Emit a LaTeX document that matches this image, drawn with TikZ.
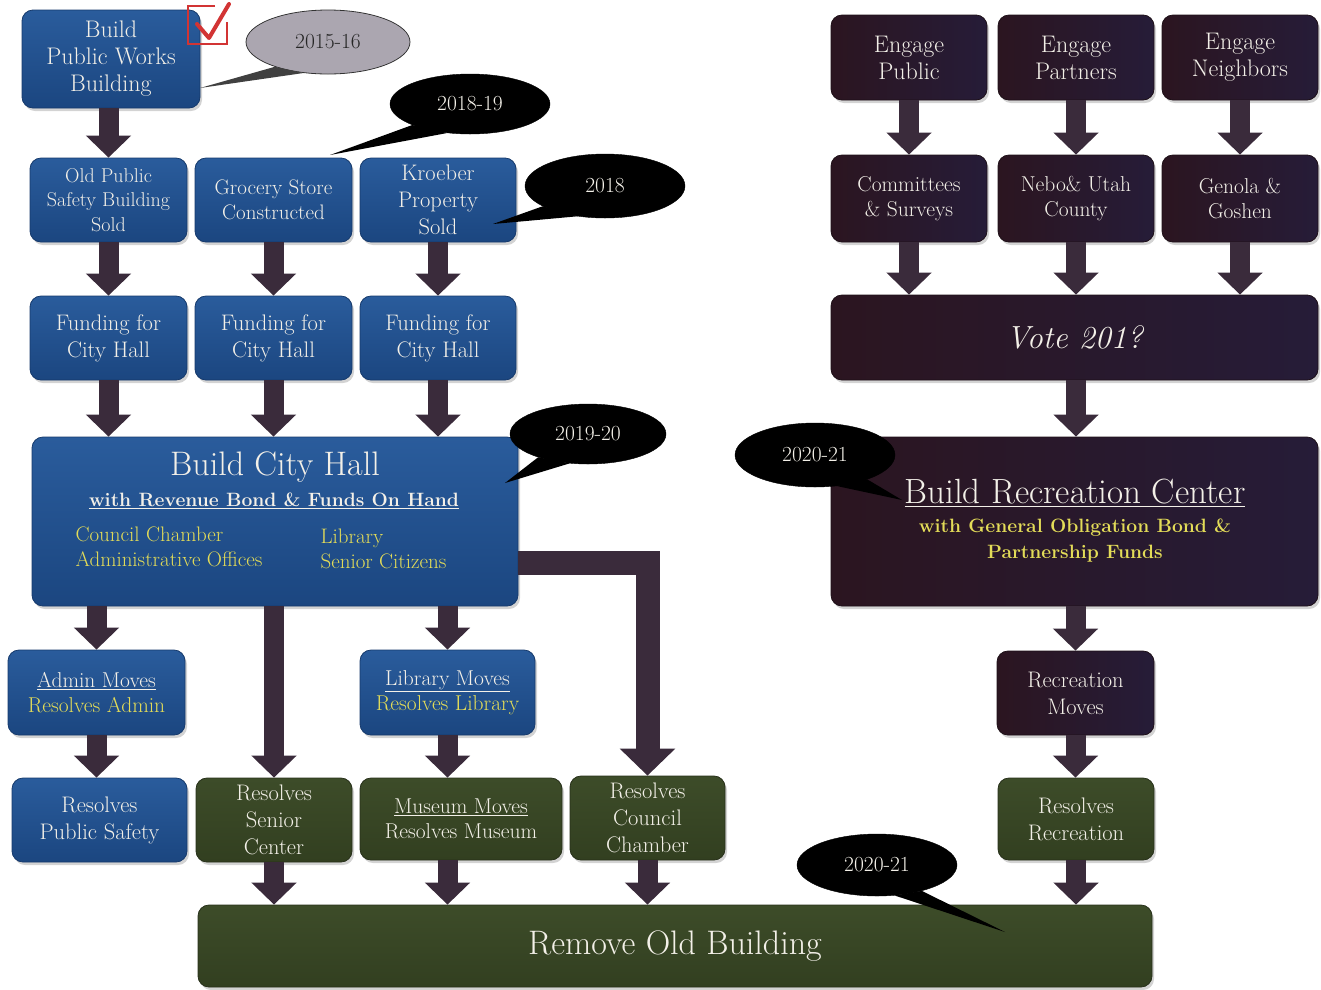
\documentclass[tikz,border=0pt]{standalone}
\usetikzlibrary{shapes.geometric,arrows.meta,shadows}
\definecolor{blueT}{HTML}{2A5C9C}
\definecolor{blueB}{HTML}{1B4680}
\definecolor{blueE}{HTML}{163A6C}
\definecolor{darkL}{HTML}{2B1520}
\definecolor{darkR}{HTML}{261C38}
\definecolor{darkE}{HTML}{1E1018}
\definecolor{greenT}{HTML}{3D4C29}
\definecolor{greenB}{HTML}{323F20}
\definecolor{greenE}{HTML}{27301A}
\definecolor{arrowc}{HTML}{3A2B3B}
\definecolor{yellowt}{HTML}{E3DC58}
\definecolor{whitet}{HTML}{F3F0E8}
\definecolor{greyell}{HTML}{ABA6B0}
\definecolor{checkred}{HTML}{D23434}
\begin{document}
\begin{tikzpicture}[x=1pt,y=-1pt,
  box/.style={rounded corners=11pt, align=center, inner sep=2pt, text=whitet,
    drop shadow={shadow xshift=2pt,shadow yshift=-3pt,opacity=0.35}},
  bluebox/.style={box, top color=blueT, bottom color=blueB, draw=blueE, line width=0.8pt},
  darkbox/.style={box, left color=darkL, right color=darkR, draw=darkE, line width=0.8pt},
  greenbox/.style={box, top color=greenT, bottom color=greenB, draw=greenE, line width=0.8pt},
  sz/.style 2 args={minimum width=#1, minimum height=#2},
  fa/.style={font=\fontsize{20}{24.5}\selectfont},
  fb/.style={font=\fontsize{21.5}{25.5}\selectfont},
  fc/.style={font=\fontsize{22.5}{27}\selectfont},
  fd/.style={font=\fontsize{24}{27}\selectfont},
  fe/.style={font=\fontsize{21}{25.5}\selectfont},
  fsub/.style={font=\fontsize{19.3}{26}\selectfont\bfseries},
  fbig/.style={font=\fontsize{34}{38}\selectfont},
  fell/.style={font=\fontsize{21.5}{24}\selectfont},
  flow/.style={draw=arrowc, line width=20pt, line join=miter, -{Triangle[width=44pt,length=22pt]}},
  bigflow/.style={draw=arrowc, line width=24pt, line join=miter, -{Triangle[width=54pt,length=27pt]}},
  blackell/.style={ellipse, fill=black, draw=black, inner sep=0pt},
  tail/.style={fill=black}
]
\useasboundingbox (0,0) rectangle (1321,989);

% ---------- left column boxes ----------
\node[bluebox, sz={178}{98}, fd] (pw) at (111,59) {Build\\Public Works\\Building};
\node[bluebox, sz={157}{84}, fa] (ops) at (108.5,200) {Old Public\\Safety Building\\Sold};
\node[bluebox, sz={157}{84}, fe] (gs) at (273.5,200) {Grocery Store\\Constructed};
\node[bluebox, sz={156}{84}, fc] (kp) at (438,200) {Kroeber\\Property\\Sold};
\node[bluebox, sz={157}{84}, fc] (fua) at (108.5,338) {Funding for\\City Hall};
\node[bluebox, sz={157}{84}, fc] (fub) at (273.5,338) {Funding for\\City Hall};
\node[bluebox, sz={156}{84}, fc] (fuc) at (438,338) {Funding for\\City Hall};

\node[bluebox, sz={486}{169}] (ch) at (275,521.5) {};
\node[fbig, text=whitet] (cht) at (275,467) {Build City Hall};
\node[fsub, text=whitet] (chs) at (274,501) {\underline{with Revenue Bond \& Funds On Hand}};
\node[fe, text=yellowt, anchor=west, align=left] (chl) at (72,547) {Council Chamber\\Administrative Offices};
\node[fe, text=yellowt, anchor=west, align=left] (chr) at (317,549) {Library\\Senior Citizens};

\node[bluebox, sz={177}{85}, fb] (am) at (96.5,692.5) {\underline{Admin Moves}\\\textcolor{yellowt}{Resolves Admin}};
\node[bluebox, sz={175}{85}, fb] (lm) at (447.5,692.5) {\underline{Library Moves}\\\textcolor{yellowt}{Resolves Library}};
\node[bluebox, sz={175}{84}, fc] (rps) at (99.5,820) {Resolves\\Public Safety};
\node[greenbox, sz={156}{84}, fc] (sc) at (274,820) {Resolves\\Senior\\Center};
\node[greenbox, sz={202}{82}, fb] (mm) at (461,819) {\underline{Museum Moves}\\Resolves Museum};
\node[greenbox, sz={155}{84}, fc] (cc) at (647.5,818) {Resolves\\Council\\Chamber};
\node[greenbox, sz={954}{82}, font=\fontsize{34}{38}\selectfont] (ro) at (675,946) {Remove Old Building};

% ---------- right column boxes ----------
\node[darkbox, sz={156}{85}, fd] (ep) at (909,57.5) {Engage\\Public};
\node[darkbox, sz={156}{85}, fd] (epa) at (1076,57.5) {Engage\\Partners};
\node[darkbox, sz={156}{85}, fd] (en) at (1240,57.5) {Engage\\Neighbors};
\node[darkbox, sz={156}{87}, fb] (com) at (909,198.5) {Committees\\\& Surveys};
\node[darkbox, sz={156}{87}, fb] (nebo) at (1076,198.5) {Nebo\& Utah\\County};
\node[darkbox, sz={156}{87}, fb] (gen) at (1240,198.5) {Genola \&\\Goshen};
\node[darkbox, sz={487}{85}, font=\fontsize{32}{36}\selectfont] (vote) at (1074.5,337.5) {\itshape Vote 201?};
\node[darkbox, sz={487}{169}] (rc) at (1074.5,521.5) {};
\node[font=\fontsize{35}{38}\selectfont, text=whitet] (rct) at (1075,493) {\underline{Build Recreation Center}};
\node[fsub, text=yellowt, align=center] (rcs) at (1075,541) {with General Obligation Bond \&\\Partnership Funds};
\node[darkbox, sz={157}{84}, fc] (rm) at (1075.5,693) {Recreation\\Moves};
\node[greenbox, sz={156}{82}, fc] (rr) at (1076,819) {Resolves\\Recreation};

% ---------- connectors ----------
\draw[flow] (pw.south -| ops.north) -- (ops.north);
\draw[flow] (ops.south) -- (fua.north);
\draw[flow] (gs.south) -- (fub.north);
\draw[flow] (kp.south) -- (fuc.north);
\draw[flow] (fua.south) -- (fua.south |- ch.north);
\draw[flow] (fub.south) -- (fub.south |- ch.north);
\draw[flow] (fuc.south) -- (fuc.south |- ch.north);
\draw[flow] (am.north |- ch.south) -- (am.north);
\draw[flow] (lm.north |- ch.south) -- (lm.north);
\draw[flow] (sc.north |- ch.south) -- (sc.north);
\draw[bigflow] ([yshift=-41pt]ch.east) -| (cc.north);
\draw[flow] (am.south) -- (am.south |- rps.north);
\draw[flow] (lm.south) -- (lm.south |- mm.north);
\draw[flow] (sc.south) -- (sc.south |- ro.north);
\draw[flow] (lm.south |- mm.south) -- (lm.south |- ro.north);
\draw[flow] (cc.south) -- (cc.south |- ro.north);

\draw[flow] (ep.south) -- (com.north);
\draw[flow] (epa.south) -- (nebo.north);
\draw[flow] (en.south) -- (gen.north);
\draw[flow] (com.south) -- (com.south |- vote.north);
\draw[flow] (nebo.south) -- (nebo.south |- vote.north);
\draw[flow] (gen.south) -- (gen.south |- vote.north);
\draw[flow] (nebo.south |- vote.south) -- (nebo.south |- rc.north);
\draw[flow] (rm.north |- rc.south) -- (rm.north);
\draw[flow] (rm.south) -- (rm.south |- rr.north);
\draw[flow] (rr.south) -- (rr.south |- ro.north);

% ---------- check box ----------
\draw[checkred, line width=2.5pt] (215,6) -- (188,6) -- (188,44) -- (227,44) -- (227,22);
\draw[checkred, line width=4pt, line cap=round, line join=round] (197,24) -- (209,38) -- (229,4);

% ---------- date callouts ----------
\coordinate (t1) at (200,88);
\coordinate (t2) at (330,155);
\coordinate (t3) at (493,224);
\coordinate (t4) at (505,483);
\coordinate (t5) at (902,500);
\coordinate (t6) at (1005,932);

\node[ellipse, fill=greyell, draw=black!80, line width=0.8pt, sz={164}{64}, inner sep=0pt] (e1) at (328,42) {};
\fill[black!75] (e1.205) -- (t1) -- (e1.232) -- cycle;
\node[ellipse, fill=greyell, inner sep=0pt, sz={162}{62}] (e1b) at (328,42) {};
\node[fell, text=black!85] (e1t) at (328,42) {2015-16};

\node[blackell, sz={160}{60}] (e2) at (470,104) {};
\fill[tail] (e2.200) -- (t2) -- (e2.232) -- cycle;
\node[fell, text=whitet] (e2t) at (470,104) {2018-19};

\node[blackell, sz={160}{64}] (e3) at (605,186) {};
\fill[tail] (e3.198) -- (t3) -- (e3.228) -- cycle;
\node[fell, text=whitet] (e3t) at (605,186) {2018};

\node[blackell, sz={156}{60}] (e4) at (588,434) {};
\fill[tail] (e4.205) -- (t4) -- (e4.238) -- cycle;
\node[fell, text=whitet] (e4t) at (588,434) {2019-20};

\node[blackell, sz={160}{64}] (e5) at (815,455) {};
\fill[tail] (e5.305) -- (t5) -- (e5.335) -- cycle;
\node[fell, text=whitet] (e5t) at (815,455) {2020-21};

\node[blackell, sz={160}{62}] (e6) at (877,865) {};
\fill[tail] (e6.300) -- (t6) -- (e6.330) -- cycle;
\node[fell, text=whitet] (e6t) at (877,865) {2020-21};
\end{tikzpicture}
\end{document}
